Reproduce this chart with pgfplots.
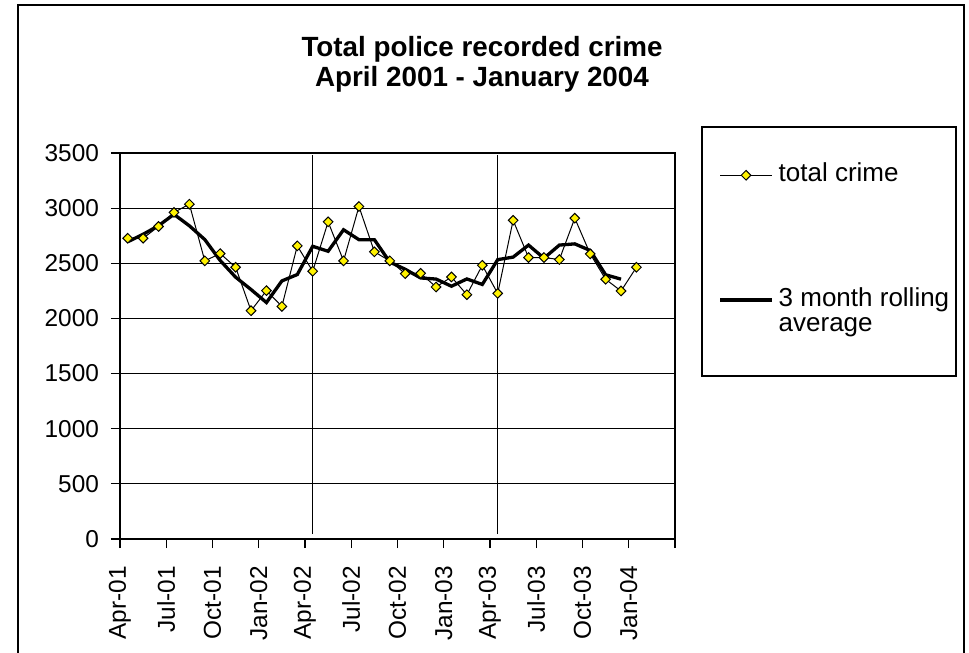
\documentclass[border=0pt]{standalone}
\usepackage{fontspec}
\setmainfont{Liberation Sans}
\usepackage{pgfplots}
\pgfplotsset{compat=1.18}
\begin{document}
\begin{tikzpicture}
\useasboundingbox (0,0) rectangle (484.5pt,326.5pt);
\draw[line width=1pt] (9pt,-20pt) rectangle (482pt,324pt);
\node[anchor=base, inner sep=0pt, font=\fontsize{13.9}{15}\selectfont\bfseries] at (241pt,298pt) {Total police recorded crime};
\node[anchor=base, inner sep=0pt, font=\fontsize{13.9}{15}\selectfont\bfseries] at (241pt,283pt) {April 2001 - January 2004};
\draw[line width=0.6pt] (351pt,138.5pt) rectangle (478pt,263pt);
\begin{axis}[
  at={(60pt,57pt)}, anchor=south west,
  scale only axis, width=277.5pt, height=193pt,
  xmin=0, xmax=36, ymin=0, ymax=3500,
  xtick={0,3,...,36},
  xticklabels={Apr-01,Jul-01,Oct-01,Jan-02,Apr-02,Jul-02,Oct-02,Jan-03,Apr-03,Jul-03,Oct-03,Jan-04,{}},
  ytick={0,500,...,3500},
  ymajorgrids, grid style={black, line width=0.6pt},
  axis line style={black, line width=0.6pt},
  tick style={black, line width=0.6pt},
  tick align=outside, major tick length=4.5pt,
  xtick pos=lower, ytick pos=left,
  /pgf/number format/assume math mode=true,
  /pgf/number format/1000 sep={},
  tick label style={font=\fontsize{12.2}{14}\selectfont},
  xticklabel style={rotate=90, anchor=east},
  xticklabel shift=5.5pt, yticklabel shift=2.5pt,
  legend style={at={(1.0775,0.987)}, anchor=north west, draw=none, fill=none,
    inner sep=0pt, row sep=47.5pt, column sep=0.5pt,
    font=\fontsize{13}{12.5}\selectfont, cells={anchor=base west}},
  legend image code/.code={\draw[mark repeat=2,mark phase=2,#1] plot coordinates {(0pt,3pt) (13pt,3pt) (26pt,3pt)};},
]
\addplot[black, line width=0.6pt, forget plot] coordinates {(12.5,45) (12.5,3482)};
\addplot[black, line width=0.6pt, forget plot] coordinates {(24.5,45) (24.5,3482)};
\addplot[black, line width=1.65pt, forget plot] coordinates {
(0.5,2695) (1.5,2763) (2.5,2841) (3.5,2944) (4.5,2840) (5.5,2715) (6.5,2525) (7.5,2374)
(8.5,2262) (9.5,2144) (10.5,2340) (11.5,2398) (12.5,2654) (13.5,2609) (14.5,2804) (15.5,2714)
(16.5,2714) (17.5,2511) (18.5,2446) (19.5,2367) (20.5,2357) (21.5,2292) (22.5,2358) (23.5,2308)
(24.5,2533) (25.5,2556) (26.5,2665) (27.5,2546) (28.5,2665) (29.5,2676) (30.5,2616) (31.5,2396)
(32.5,2356)};
\addplot[black, line width=0.5pt, mark=square*, mark size=1.7pt,
  mark options={rotate=45, fill=yellow, draw=black, line width=0.5pt}] coordinates {
(0.5,2727) (1.5,2727) (2.5,2834) (3.5,2961) (4.5,3036) (5.5,2522) (6.5,2588) (7.5,2464)
(8.5,2070) (9.5,2252) (10.5,2109) (11.5,2658) (12.5,2428) (13.5,2876) (14.5,2522) (15.5,3015)
(16.5,2604) (17.5,2522) (18.5,2406) (19.5,2409) (20.5,2285) (21.5,2376) (22.5,2215) (23.5,2482)
(24.5,2227) (25.5,2890) (26.5,2552) (27.5,2552) (28.5,2534) (29.5,2909) (30.5,2585) (31.5,2355)
(32.5,2249) (33.5,2464)};
\addlegendentry{total crime}
\addlegendimage{black, line width=1.65pt}
\addlegendentry{\vtop{\hbox{3 month rolling}\hbox{average}}}
\end{axis}
\end{tikzpicture}
\end{document}
